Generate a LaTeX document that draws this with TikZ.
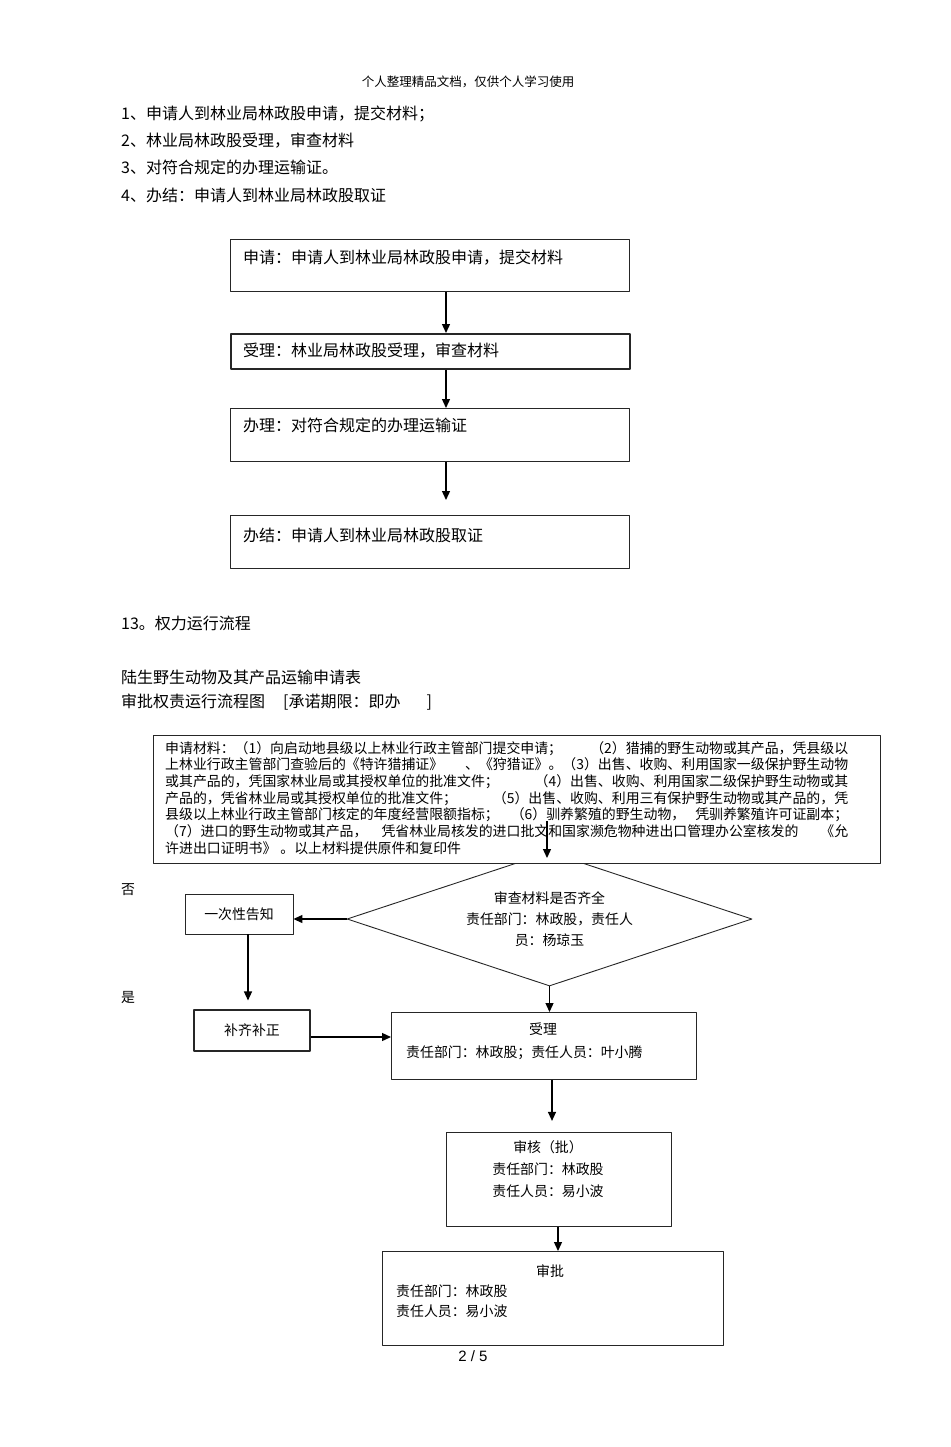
\documentclass[tikz,border=0pt]{standalone}
\usepackage{fontspec}
\setmainfont{Noto Sans CJK SC}
\newfontfamily\pagefont{Liberation Sans}
\usetikzlibrary{arrows.meta, shapes.geometric, positioning}
\tikzset{
	txt/.style={font=\fontsize{16}{16}\selectfont, inner sep=0pt},
	small/.style={font=\fontsize{13.9}{21}\selectfont, inner sep=0pt},
	mtxt/.style={font=\fontsize{13.9}{16.7}\selectfont, inner sep=0pt, align=left},
	box/.style={draw=black!85, line width=0.9pt, inner sep=0pt},
	arr/.style={->, line width=1.3pt}
}
\begin{document}
\begin{tikzpicture}[x=1pt, y=-1pt, line join=round, >={Triangle[length=9pt,width=8pt]}]
	\useasboundingbox (0,0) rectangle (950,1447);
	% page head and list
	\node[txt, font=\fontsize{12.5}{12.5}\selectfont] (head) at (468,82) {个人整理精品文档，仅供个人学习使用};
	\node[txt, anchor=west] (l1) at (121,114) {1、申请人到林业局林政股申请，提交材料；};
	\node[txt, anchor=west] (l2) at (121,141) {2、林业局林政股受理，审查材料};
	\node[txt, anchor=west] (l3) at (121,167) {3、对符合规定的办理运输证。};
	\node[txt, anchor=west] (l4) at (121,195) {4、办结：申请人到林业局林政股取证};
	% first flow
	\coordinate (ax) at (446,0);
	\node[box, minimum width=399pt, minimum height=52pt, anchor=north west] (s1) at (230,239) {};
	\node[box, line width=1.6pt, minimum width=399pt, minimum height=35pt, anchor=north west] (s2) at (230,333) {};
	\node[box, minimum width=399pt, minimum height=53pt, anchor=north west] (s3) at (230,408) {};
	\node[box, minimum width=399pt, minimum height=53pt, anchor=north west] (s4) at (230,515) {};
	\node[txt, anchor=west] (t1) at (243,258) {申请：申请人到林业局林政股申请，提交材料};
	\node[txt, anchor=west] (t2) at (243,351) {受理：林业局林政股受理，审查材料};
	\node[txt, anchor=west] (t3) at (243,425) {办理：对符合规定的办理运输证};
	\node[txt, anchor=west] (t4) at (243,535) {办结：申请人到林业局林政股取证};
	\draw[arr] (ax |- s1.south) -- (ax |- s2.north);
	\draw[arr] (ax |- s2.south) -- (ax |- s3.north);
	\path (ax |- s4.north) ++(0,-15) coordinate (e4);
	\draw[arr] (ax |- s3.south) -- (e4);
	% titles
	\node[txt, anchor=west] (sec) at (121,623) {13。权力运行流程};
	\node[txt, anchor=west] (ttl1) at (121,677) {陆生野生动物及其产品运输申请表};
	\node[txt, anchor=west] (ttl2) at (121,702) {审批权责运行流程图\hspace{18pt}[承诺期限：即办\hspace{26pt}]};
	% second flow
	\node[diamond, draw=black!85, line width=0.9pt, aspect=3, minimum width=405pt, minimum height=134pt, small, align=center] (chk) at (549.5,919) {审查材料是否齐全\\责任部门：林政股，责任人\\员：杨琼玉};
	\node[box, fill=white, minimum width=727pt, minimum height=128pt, anchor=north west] (mat) at (153,735) {};
	\node[mtxt, anchor=north west] (mlines) at (165,741) {%
		\makebox[683pt][l]{申请材料：（1）向启动地县级以上林业行政主管部门提交申请；\hfill（2）猎捕的野生动物或其产品，凭县级以}\\
		\makebox[683pt][l]{上林业行政主管部门查验后的《特许猎捕证》\hfill、《狩猎证》。（3）出售、收购、利用国家一级保护野生动物}\\
		\makebox[683pt][l]{或其产品的，凭国家林业局或其授权单位的批准文件；\hfill（4）出售、收购、利用国家二级保护野生动物或其}\\
		\makebox[683pt][l]{产品的，凭省林业局或其授权单位的批准文件；\hfill（5）出售、收购、利用三有保护野生动物或其产品的，凭}\\
		\makebox[683pt][l]{县级以上林业行政主管部门核定的年度经营限额指标；\hfill（6）驯养繁殖的野生动物，\hspace{10pt}凭驯养繁殖许可证副本；}\\
		\makebox[683pt][l]{（7）进口的野生动物或其产品，\hspace{14pt}凭省林业局核发的进口批文和国家濒危物种进出口管理办公室核发的\hfill《允}\\
		许进出口证明书》\hspace{4pt}。以上材料提供原件和复印件};
	\coordinate (m1) at (547,821);
	\coordinate (m2) at (547,858);
	\draw[arr] (m1) -- (m2);
	\node[small] (no) at (128,890) {否};
	\node[small] (yes) at (128,997) {是};
	\node[box, minimum width=108pt, minimum height=40pt, small] (tell) at (239,914) {一次性告知};
	\node[box, line width=1.3pt, minimum width=116pt, minimum height=41pt, small] (fix) at (252,1030.5) {补齐补正};
	\node[box, minimum width=305pt, minimum height=67pt, anchor=north west] (acc) at (391,1012) {};
	\node[small, anchor=north west, align=left] (acctxt) at (406,1023) {\hspace{123pt}受理\\[2pt]责任部门：林政股；责任人员：叶小腾};
	\node[box, minimum width=225pt, minimum height=94pt, anchor=north west] (rev) at (446,1132) {};
	\node[small, align=center] (revtxt) at (548,1169) {审核（批）\\[1pt]责任部门：林政股\\[1pt]责任人员：易小波};
	\node[box, minimum width=341pt, minimum height=94pt, anchor=north west] (apr) at (382,1251) {};
	\node[small, anchor=north west, align=left] (aprtxt) at (396,1265) {\hspace{140pt}审批\\[-1pt]责任部门：林政股\\[-1pt]责任人员：易小波};
	\draw[arr] (chk.west) -- (chk.west -| tell.east);
	\coordinate (v) at (248,0);
	\draw[arr] (v |- tell.south) -- ++(0,66);
	\coordinate (fy) at ([yshift=-6.5pt]fix.east);
	\draw[arr] (fy) -- (fy -| acc.west);
	\draw[arr] (chk.south) -- (chk.south |- acc.north);
	\coordinate (w1) at (552,0);
	\draw[arr] (w1 |- acc.south) -- ++(0,41);
	\coordinate (w2) at (558,0);
	\draw[arr] (w2 |- rev.south) -- (w2 |- apr.north);
	\node[txt, font=\pagefont\fontsize{15}{15}\selectfont] (page) at (473,1356) {2 / 5};
\end{tikzpicture}
\end{document}
